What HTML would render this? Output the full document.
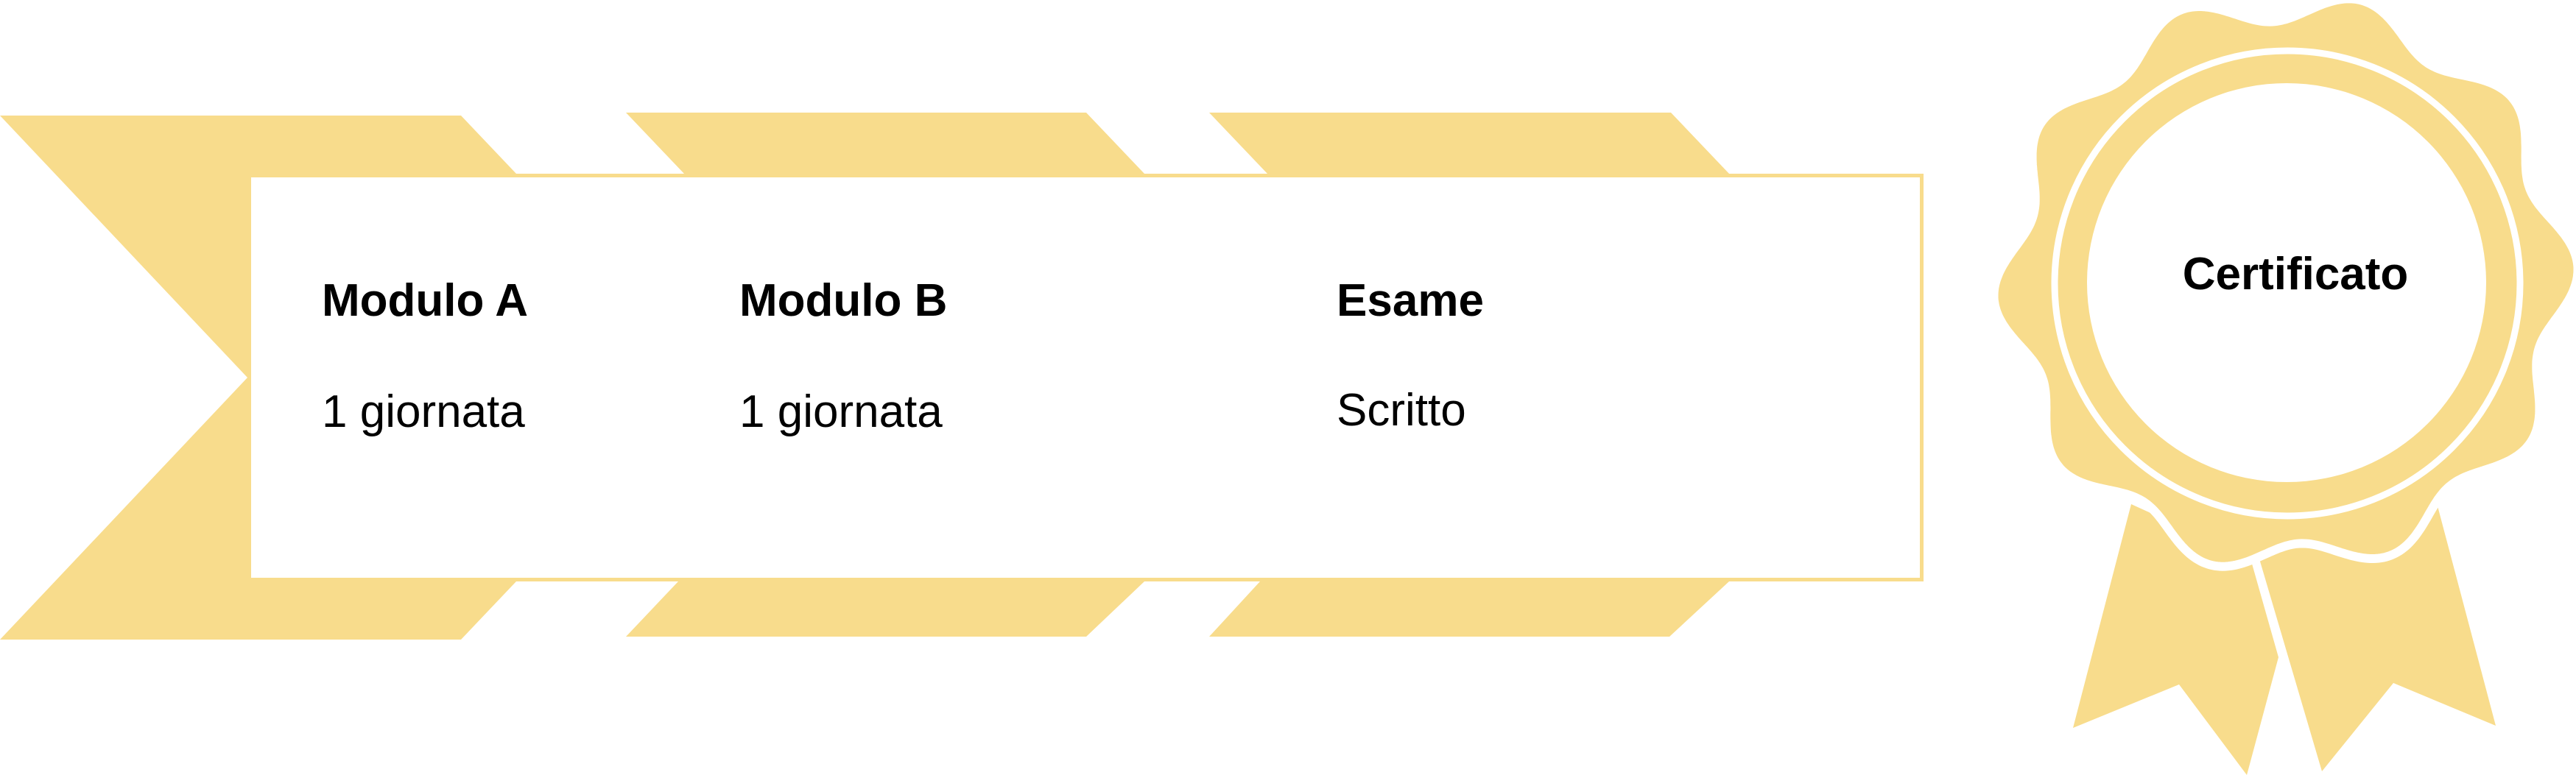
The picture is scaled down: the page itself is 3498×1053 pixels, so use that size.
<!DOCTYPE html>
<html><head><meta charset="utf-8"><style>
html,body{margin:0;padding:0;background:#fff;}
svg{display:block;}
text{font-family:"Liberation Sans",sans-serif;fill:#000;}
</style></head><body>
<svg width="3498" height="1053" viewBox="0 0 3498 1053" xmlns="http://www.w3.org/2000/svg">
<g fill="#f8dc8c">
  <polygon points="0,157 626,157 701,236 701,790 626,869 0,869 336,513"/>
  <polygon points="850,153 1475,153 1554,236 1554,790 1475,865 850,865 921,790 929,236"/>
  <polygon points="1642,153 2269,153 2348,236 2348,790 2267,865 1642,865 1711,790 1721,236"/>
</g>
<rect x="338.5" y="238.5" width="2271" height="549" fill="#fff" stroke="#f8dc8c" stroke-width="5"/>
<text x="437" y="429" font-size="62" font-weight="bold">Modulo A</text>
<text x="437" y="580" font-size="62">1 giornata</text>
<text x="1004" y="429" font-size="62" font-weight="bold">Modulo B</text>
<text x="1004" y="580" font-size="62">1 giornata</text>
<text x="1815" y="429" font-size="62" font-weight="bold">Esame</text>
<text x="1815" y="578" font-size="62">Scritto</text>
<g fill="#f8dc8c">
  <polygon points="2894,685 2815,989 2959,930 3051,1053 3094,893 3056,759"/>
  <polygon points="3067,756 3153,1048 3250,928 3389,986 3308,680"/>
</g>
<path id="seal" fill="#f8dc8c" stroke="#fff" stroke-width="12" d="" />
<circle cx="3106" cy="385" r="316" fill="none" stroke="#fff" stroke-width="9"/>
<circle cx="3105" cy="384" r="271" fill="#fff"/>
<text x="3117" y="393" font-size="62" font-weight="bold" text-anchor="middle">Certificato</text>
<script>
(function(){
  var cx=3104,cy=384,d='',N=720;
  for(var i=0;i<=N;i++){
    var t=i/N*2*Math.PI;
    var ph=10*(t-(-3*Math.PI/180));
    var r=376+21*Math.cos(ph);
    var x=cx+r*Math.cos(t), y=cy+r*Math.sin(t);
    d+=(i?'L':'M')+x.toFixed(1)+','+y.toFixed(1);
  }
  document.getElementById('seal').setAttribute('d',d+'Z');
})();
</script>
</svg>
</body></html>
